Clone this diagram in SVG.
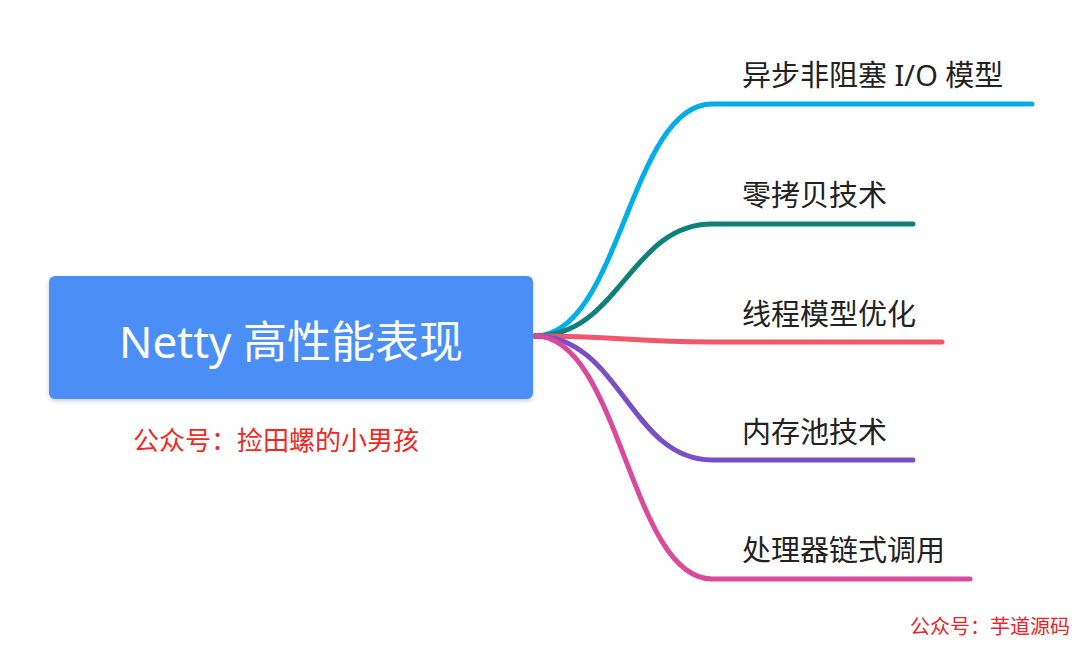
<svg xmlns="http://www.w3.org/2000/svg" width="1080" height="645" viewBox="0 0 1080 645">
<style>
.b{fill:none;stroke-width:5;stroke-linecap:round}
.t{font-family:"Noto Sans","Noto Sans CJK SC",sans-serif;font-size:29px;fill:#222}
</style>
<defs><filter id="sh" x="-5%" y="-10%" width="110%" height="130%"><feDropShadow dx="0" dy="2" stdDeviation="2" flood-opacity="0.2"/></filter></defs>
<rect width="1080" height="645" fill="#fff"/>
<g id="connectors">
<path class="b" stroke="#00aee8" d="M535 336 C620 336 630 104 712 104 L1032 104"/>
<path class="b" stroke="#10807c" d="M535 336 C620 336 630 224 712 224 L913 224"/>
<path class="b" stroke="#f2566c" d="M535 336 C620 336 630 342 712 342 L942 342"/>
<path class="b" stroke="#7a4ec6" d="M535 336 C620 336 630 460 712 460 L913 460"/>
<path class="b" stroke="#d94a9c" d="M535 336 C620 336 630 579 712 579 L970 579"/>
</g>
<g id="root">
<rect x="49" y="276" width="484" height="123" rx="6" fill="#4b8ff6" filter="url(#sh)"/>
<text x="291" y="358" text-anchor="middle" font-family="'Noto Sans','Noto Sans CJK SC',sans-serif" font-size="44" fill="#fff">Netty 高性能表现</text>
</g>
<g id="n1"><text class="t" x="742" y="86">异步非阻塞 I/O 模型</text></g>
<g id="n2"><text class="t" x="742" y="206">零拷贝技术</text></g>
<g id="n3"><text class="t" x="742" y="325">线程模型优化</text></g>
<g id="n4"><text class="t" x="742" y="443">内存池技术</text></g>
<g id="n5"><text class="t" x="742" y="561">处理器链式调用</text></g>
<text x="133" y="450" font-family="'Noto Sans CJK SC',sans-serif" font-size="26" fill="#f0281e">公众号：捡田螺的小男孩</text>
<text x="910" y="634" font-family="'Noto Sans CJK SC',sans-serif" font-size="20" fill="#e8242a">公众号：芋道源码</text>
</svg>
